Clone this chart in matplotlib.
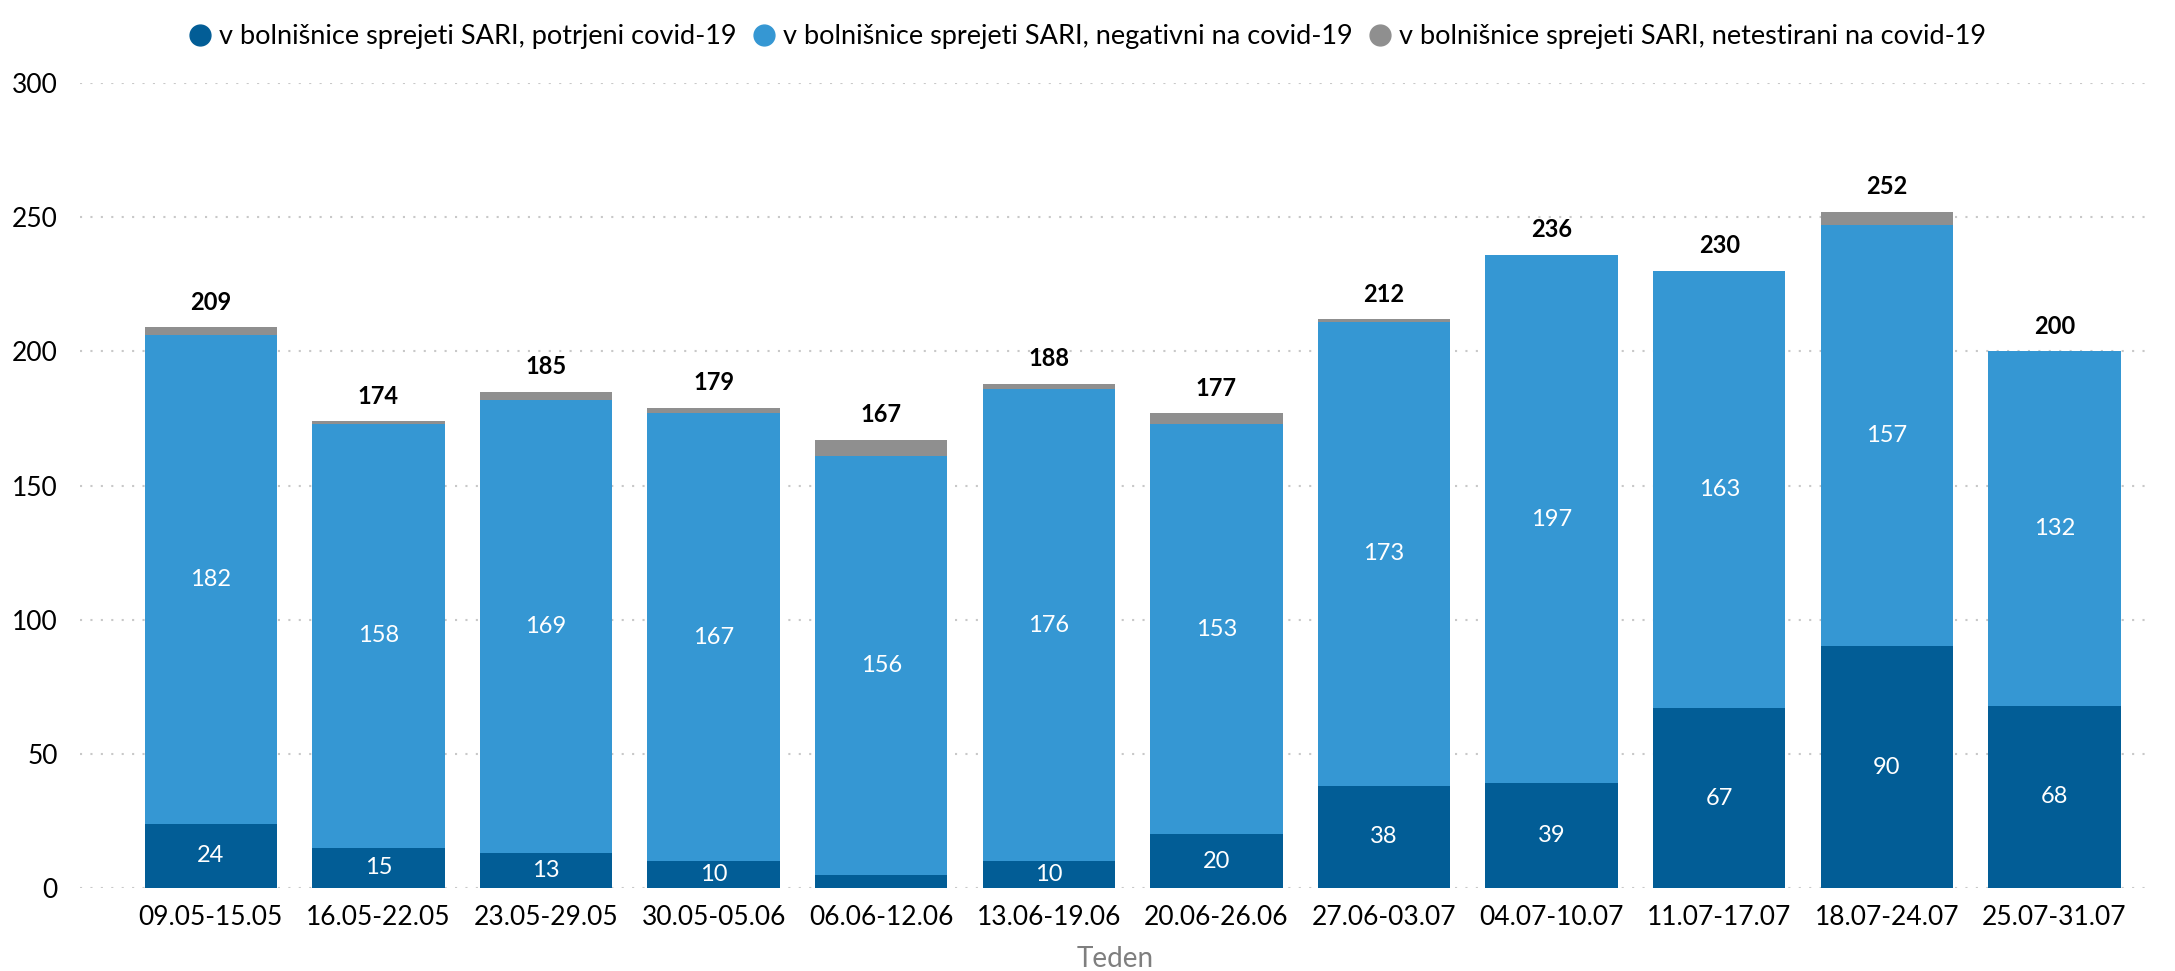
import numpy as np
import matplotlib.pyplot as plt
from matplotlib.lines import Line2D

plt.rcParams['font.family'] = ['Lato', 'DejaVu Sans']

weeks = ['09.05-15.05', '16.05-22.05', '23.05-29.05', '30.05-05.06', '06.06-12.06',
         '13.06-19.06', '20.06-26.06', '27.06-03.07', '04.07-10.07', '11.07-17.07',
         '18.07-24.07', '25.07-31.07']
potrjeni = [24, 15, 13, 10, 5, 10, 20, 38, 39, 67, 90, 68]
negativni = [182, 158, 169, 167, 156, 176, 153, 173, 197, 163, 157, 132]
netestirani = [3, 1, 3, 2, 6, 2, 4, 1, 0, 0, 5, 0]
skupaj = [209, 174, 185, 179, 167, 188, 177, 212, 236, 230, 252, 200]

labels = ['v bolnišnice sprejeti SARI, potrjeni covid-19',
          'v bolnišnice sprejeti SARI, negativni na covid-19',
          'v bolnišnice sprejeti SARI, netestirani na covid-19']
colors = ['#025d96', '#3597d3', '#8f8f8f']

fig = plt.figure(figsize=(21.75, 9.71), dpi=100)
ax = fig.add_axes([0.0368, 0.0855, 0.9517, 0.829])

x = np.arange(len(weeks))
p = np.array(potrjeni)
n = np.array(negativni)
t = np.array(netestirani)
w = 0.79
ax.bar(x, p, w, color=colors[0], zorder=2)
ax.bar(x, n, w, bottom=p, color=colors[1], zorder=2)
ax.bar(x, t, w, bottom=p + n, color=colors[2], zorder=2)

for i in range(len(x)):
    if p[i] >= 10:
        ax.text(x[i], p[i] / 2, str(p[i]), ha='center', va='center', color='white', fontsize=17)
    ax.text(x[i], p[i] + n[i] / 2, str(n[i]), ha='center', va='center', color='white', fontsize=17)
    ax.text(x[i], skupaj[i] + 5, str(skupaj[i]), ha='center', va='bottom', color='black',
            fontsize=17, fontweight='bold')

ax.set_ylim(0, 300)
ax.set_xlim(-0.78, 11.57)
ax.set_yticks([0, 50, 100, 150, 200, 250, 300])
ax.set_xticks(x)
ax.set_xticklabels(weeks)
ax.tick_params(axis='both', length=0, labelsize=19, colors='black')
ax.tick_params(axis='y', pad=16)
ax.tick_params(axis='x', pad=12)
ax.grid(axis='y', color='#c8c8c8', linestyle=(0, (1, 4)), linewidth=1.5, zorder=0)
for s in ax.spines.values():
    s.set_visible(False)
ax.set_xlabel('Teden', fontsize=20, color='#7f7f7f', labelpad=12)

handles = [Line2D([], [], marker='o', linestyle='', markersize=15, color=c) for c in colors]
fig.legend(handles, labels, loc='upper center', bbox_to_anchor=(0.5, 1.0), ncol=3,
           frameon=False, fontsize=19.5, handlelength=0.8, handletextpad=0.3,
           columnspacing=0.6)

fig.savefig('out.png', dpi=100)
